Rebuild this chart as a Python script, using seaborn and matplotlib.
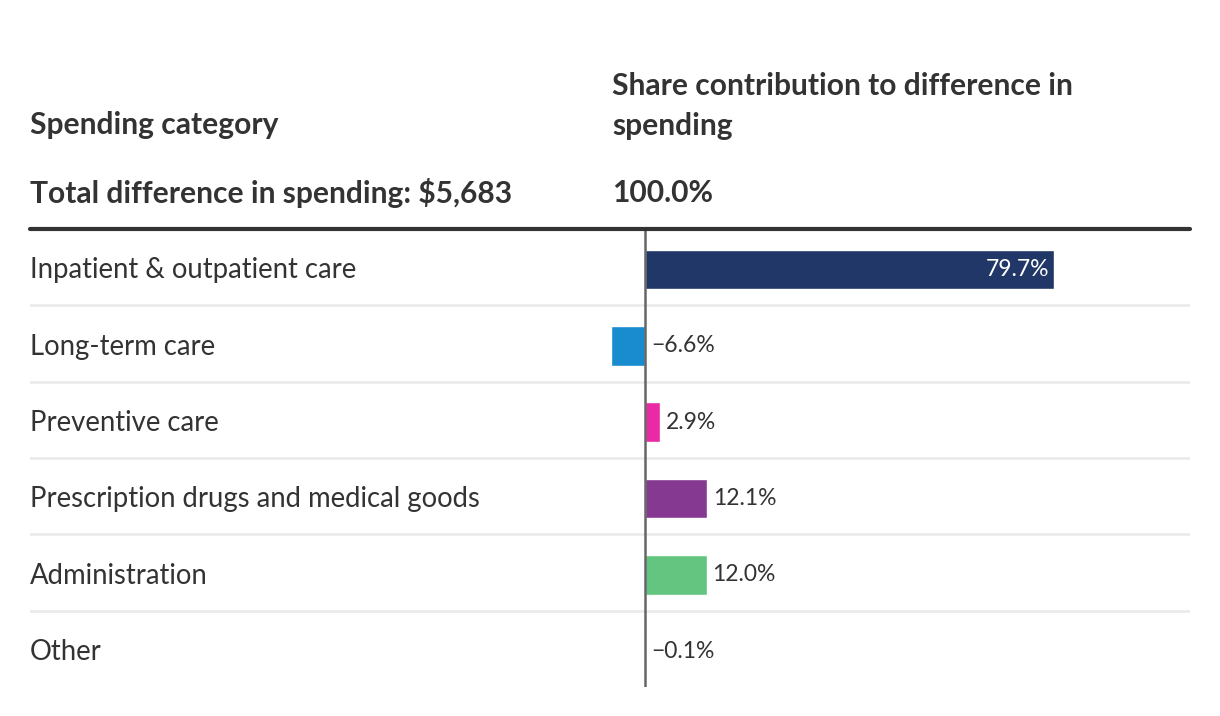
import matplotlib
matplotlib.use("Agg")
import matplotlib.pyplot as plt
import seaborn as sns
import pandas as pd
import matplotlib.transforms as mtransforms

categories = [
    "Inpatient & outpatient care",
    "Long-term care",
    "Preventive care",
    "Prescription drugs and medical goods",
    "Administration",
    "Other",
]
shares = [79.7, -6.6, 2.9, 12.1, 12.0, -0.1]
share_labels = ["79.7%", "\u22126.6%", "2.9%", "12.1%", "12.0%", "\u22120.1%"]
bar_colors = ["#213767", "#198bcf", "#e92aa4", "#863990", "#63c57f", "#1c2340"]

header_left = "Spending category"
header_right = "Share contribution to difference in\nspending"
total_left = "Total difference in spending: $5,683"
total_right = "100.0%"

sns.set_theme(style="white")
plt.rcParams["font.family"] = ["Lato", "DejaVu Sans"]

W, H = 1220, 716
fig = plt.figure(figsize=(W / 100, H / 100), dpi=100)

# axes covers the table body: x 30..1190 px, y 229..687 px
left, right, top, bottom = 30, 1190, 229, 687
ax = fig.add_axes([left / W, 1 - bottom / H, (right - left) / W, (bottom - top) / H])

zero_px = 645
px_per_pct = (1054 - zero_px) / 79.7
ax.set_xlim(-(zero_px - left) / px_per_pct, (right - zero_px) / px_per_pct)

df = pd.DataFrame({"category": categories, "share": shares})
sns.barplot(data=df, x="share", y="category", hue="category",
            palette=bar_colors, orient="h", width=0.52, legend=False,
            saturation=1, ax=ax)
# bars sit a touch below the row centre
d = 0.03
ax.set_ylim(len(categories) - 0.5 - d, -0.5 - d)
ax.set_xlabel("")
ax.set_ylabel("")
ax.set_xticks([])
ax.set_yticks([])
for s in ax.spines.values():
    s.set_visible(False)

# row separators
for i in range(1, len(categories)):
    ax.axhline(i - 0.5 - d, color="#ebebeb", lw=2, zorder=0)

# zero line
ax.axvline(0, color="#666666", lw=1.8, zorder=3)

text_color = "#333333"
blend = mtransforms.blended_transform_factory(ax.transAxes, ax.transData)
off = mtransforms.offset_copy
for i, (cat, v, lab) in enumerate(zip(categories, shares, share_labels)):
    ax.text(0, i + 0.01, cat, transform=blend, ha="left", va="center",
            fontsize=19.8, color=text_color)
    if v > 30:
        t = off(ax.transData, fig=fig, x=-5, y=0, units="dots")
        ax.text(v, i, lab, transform=t, ha="right", va="center",
                fontsize=16.5, color="white", zorder=4)
    else:
        t = off(ax.transData, fig=fig, x=6, y=0, units="dots")
        ax.text(max(v, 0), i, lab, transform=t, ha="left", va="center",
                fontsize=16.5, color=text_color, zorder=4)

# header
def fx(px):
    return px / W

def fy(px):
    return 1 - px / H

hsize = 21.6
fig.text(fx(30), fy(125), header_left, ha="left", va="center",
         fontsize=hsize, fontweight="bold", color=text_color)
fig.text(fx(612), fy(106), header_right, ha="left", va="center",
         fontsize=hsize, fontweight="bold", color=text_color, linespacing=1.5)
fig.text(fx(30), fy(193), total_left, ha="left", va="center",
         fontsize=hsize, fontweight="bold", color=text_color)
fig.text(fx(612), fy(193), total_right, ha="left", va="center",
         fontsize=hsize, fontweight="bold", color=text_color)

# thick rule below header
fig.add_artist(plt.Line2D([fx(30), fx(1190)], [fy(229), fy(229)],
                          color="#333333", lw=3))

fig.savefig("out.png", dpi=100, facecolor="white")
